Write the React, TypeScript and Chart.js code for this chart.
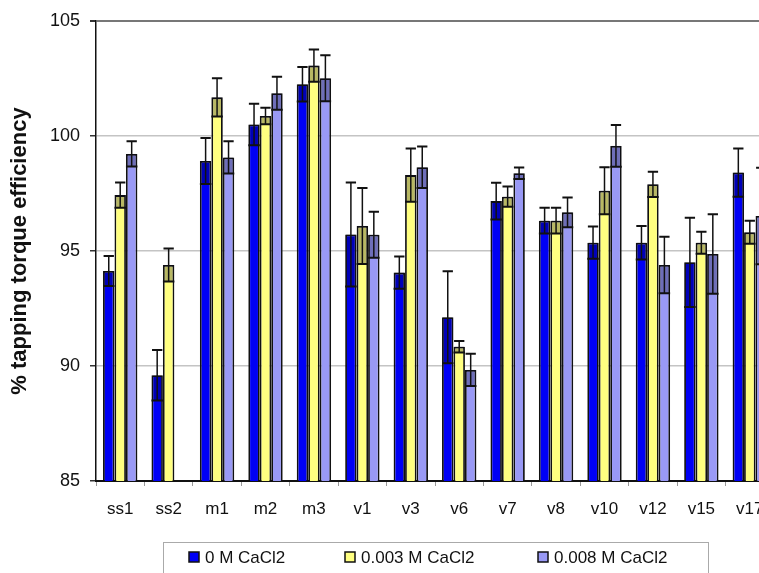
import React, { useEffect, useRef } from "react";
import { Chart, registerables } from "chart.js";

Chart.register(...registerables);

const categories = ["ss1", "ss2", "m1", "m2", "m3", "v1", "v3", "v6", "v7", "v8", "v10", "v12", "v15", "v17"];
const seriesLabels = ["0 M CaCl2", "0.003 M CaCl2", "0.008 M CaCl2"];
const values0 = [94.13, 89.6, 98.91, 100.5, 102.25, 95.72, 94.06, 92.12, 97.17, 96.32, 95.36, 95.36, 94.51, 98.41];
const errors0 = [0.65, 1.1, 1.0, 0.9, 0.75, 2.26, 0.7, 2.0, 0.8, 0.56, 0.7, 0.73, 1.94, 1.05];
const values1 = [97.43, 94.39, 101.68, 100.87, 103.06, 96.09, 98.3, 90.84, 97.36, 96.32, 97.62, 97.9, 95.36, 95.81];
const errors1 = [0.55, 0.72, 0.83, 0.36, 0.7, 1.65, 1.16, 0.25, 0.44, 0.56, 1.02, 0.55, 0.48, 0.5];
const values2 = [99.22, null, 99.07, 101.86, 102.51, 95.71, 98.64, 89.83, 98.38, 96.68, 99.57, 94.39, 94.87, 96.52];
const errors2 = [0.55, null, 0.7, 0.72, 1.0, 1.0, 0.9, 0.7, 0.25, 0.65, 0.91, 1.23, 1.73, 2.1];
const yTicks = [85, 90, 95, 100, 105];
const yTitle = "% tapping torque efficiency";

const colors = ["#0000F5", "#FFFF80", "#9999F5"];
const FONT = "'Liberation Sans', Arial, sans-serif";

const errorBarPlugin = {
  id: "errorBars",
  afterDatasetsDraw(chart: any) {
    const ctx = chart.ctx;
    const yScale = chart.scales.y;
    const area = chart.chartArea;
    ctx.save();
    ctx.beginPath();
    ctx.rect(area.left, area.top - 10, area.right - area.left, area.bottom - area.top + 10);
    ctx.clip();
    chart.data.datasets.forEach((ds: any, di: number) => {
      const meta = chart.getDatasetMeta(di);
      meta.data.forEach((bar: any, i: number) => {
        const v = ds.data[i];
        const e = ds.errors[i];
        if (v == null || e == null) return;
        const x = bar.x;
        const w = bar.width;
        const yTop = yScale.getPixelForValue(v + e);
        const yVal = yScale.getPixelForValue(v);
        const yBot = yScale.getPixelForValue(v - e);
        ctx.fillStyle = "rgba(0,0,30,0.28)";
        ctx.fillRect(x - w / 2 + 1, yVal, w - 2, yBot - yVal);
        ctx.strokeStyle = "#111";
        ctx.lineWidth = 1.5;
        ctx.beginPath();
        ctx.moveTo(x, yTop);
        ctx.lineTo(x, yBot);
        ctx.stroke();
        ctx.lineWidth = 2;
        const cap = w * 0.45;
        ctx.beginPath();
        ctx.moveTo(x - cap, yTop);
        ctx.lineTo(x + cap, yTop);
        ctx.moveTo(x - w / 2, yBot);
        ctx.lineTo(x + w / 2, yBot);
        ctx.stroke();
      });
    });
    ctx.restore();
  },
};

const legendPlugin = {
  id: "boxLegend",
  afterDraw(chart: any) {
    const ctx = chart.ctx;
    ctx.save();
    ctx.strokeStyle = "#aaa";
    ctx.lineWidth = 1;
    ctx.strokeRect(163.5, 542.5, 545, 60);
    const markerX = [189, 345, 538];
    const cy = 557;
    ctx.font = `17px ${FONT}`;
    ctx.textBaseline = "middle";
    chart.data.datasets.forEach((ds: any, i: number) => {
      ctx.fillStyle = ds.backgroundColor;
      ctx.fillRect(markerX[i], cy - 5, 10, 10);
      ctx.strokeStyle = "#111";
      ctx.lineWidth = 1.5;
      ctx.strokeRect(markerX[i], cy - 5, 10, 10);
      ctx.fillStyle = "#111";
      ctx.fillText(ds.label, markerX[i] + 16, cy + 1);
    });
    ctx.restore();
  },
};

export default function App() {
  const ref = useRef<HTMLCanvasElement | null>(null);
  useEffect(() => {
    if (!ref.current) return;
    const mk = (label: string, data: any[], errors: any[], color: string) => ({
      label,
      data,
      errors,
      backgroundColor: color,
      borderColor: "#111",
      borderWidth: 1.8,
      borderSkipped: false,
    });
    const chart = new Chart(ref.current, {
      type: "bar",
      data: {
        labels: categories,
        datasets: [
          mk(seriesLabels[0], values0, errors0, colors[0]),
          mk(seriesLabels[1], values1, errors1, colors[1]),
          mk(seriesLabels[2], values2, errors2, colors[2]),
        ] as any,
      },
      options: {
        animation: false,
        responsive: false,
        devicePixelRatio: 1,
        layout: { padding: { top: 21, left: 0, right: 6, bottom: 0 } },
        datasets: { bar: { categoryPercentage: 0.71, barPercentage: 1 } },
        plugins: {
          legend: { display: false },
          tooltip: { enabled: false },
        },
        scales: {
          x: {
            offset: true,
            grid: {
              offset: true,
              drawOnChartArea: false,
              drawTicks: true,
              tickLength: 5,
              color: "#999",
            },
            border: { display: true, color: "#111", width: 2 },
            ticks: {
              color: "#111",
              font: { family: FONT, size: 17 },
              padding: 13,
              maxRotation: 0,
              autoSkip: false,
            },
            afterFit: (s: any) => {
              s.height = 92;
            },
          },
          y: {
            min: 85,
            max: 105,
            afterBuildTicks: (s: any) => {
              s.ticks = yTicks.map((v) => ({ value: v }));
            },
            grid: {
              color: (c: any) => (c.tick && c.tick.value === 105 ? "#777" : "#c4c4c4"),
              lineWidth: (c: any) => (c.tick && c.tick.value === 105 ? 2 : 1.5),
              tickColor: "#333",
              tickLength: 6,
            },
            border: { display: true, color: "#111", width: 1.5 },
            ticks: {
              color: "#111",
              font: { family: FONT, size: 18 },
              padding: 10,
            },
            title: {
              display: true,
              text: yTitle,
              color: "#111",
              font: { family: FONT, size: 22, weight: "bold" },
              padding: { top: 7, bottom: 0 },
            },
            afterFit: (s: any) => {
              s.width = 96;
            },
          },
        },
      },
      plugins: [errorBarPlugin, legendPlugin],
    });
    return () => chart.destroy();
  }, []);
  return (
    <div
      style={{
        position: "fixed",
        left: 0,
        top: 0,
        width: 759,
        height: 573,
        overflow: "hidden",
        background: "#fff",
      }}
    >
      <canvas ref={ref} width={780} height={573} style={{ display: "block", width: 780, height: 573 }} />
    </div>
  );
}
